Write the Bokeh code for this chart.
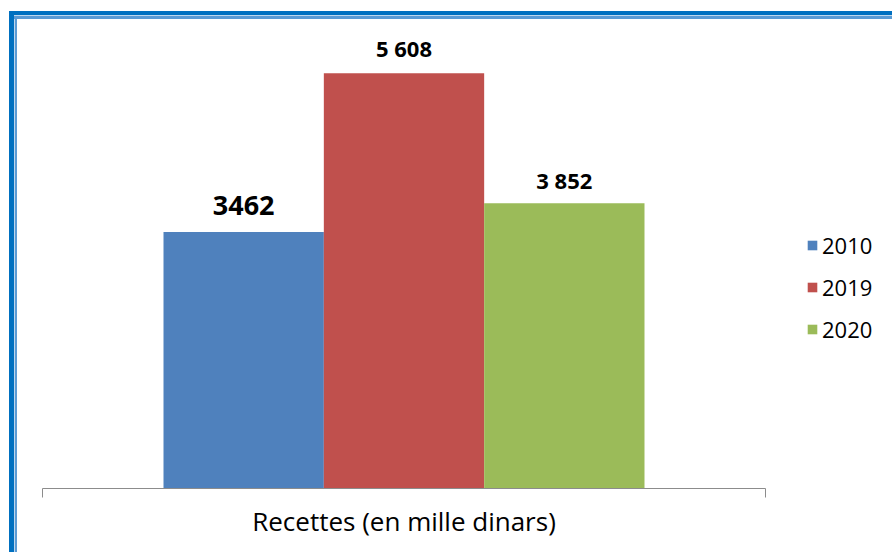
from bokeh.plotting import figure
from bokeh.models import (ColumnDataSource, Range1d, LinearAxis, FixedTicker,
                          Legend, LegendItem)
from bokeh.embed import file_html
from bokeh.resources import INLINE
from bokeh.core.properties import value

# ---- data ----
category = "Recettes (en mille dinars)"
years = ["2010", "2019", "2020"]
recettes = [3462, 5608, 3852]
value_labels = ["3462", "5 608", "3 852"]

# ---- styles ----
colors = ["#4F81BD", "#C0504D", "#9BBB59"]
label_sizes = ["27px", "22px", "22px"]
label_offsets = [-27, -25, -23]
FONT = "Open Sans"
PAD = 0.7547          # gap between the bar group and each end of the category axis (bar widths)
AXIS_PX = 723         # length of the category axis in pixels
LEFT = 42             # left border in pixels
W, H = 892, 552

xpos = [i + 0.5 for i in range(len(years))]
src = ColumnDataSource(dict(x=xpos, year=years, val=recettes, lab=value_labels, color=colors,
                            size=label_sizes, off=label_offsets))

x0, x1 = -PAD, len(years) + PAD
xmid = (x0 + x1) / 2
frame_w = W - LEFT
x_end = x0 + (x1 - x0) * frame_w / AXIS_PX   # plot area extends right to hold the legend

p = figure(width=W, height=H, output_backend="svg", toolbar_location=None,
           x_range=Range1d(x0, x_end), y_range=Range1d(0, 6589),
           x_axis_location=None, y_axis_location=None,
           min_border_left=LEFT, min_border_right=0, min_border_top=0, min_border_bottom=64)
p.outline_line_color = None
p.xgrid.visible = False
p.ygrid.visible = False
p.background_fill_alpha = 0
p.border_fill_alpha = 0

# decorative window-like frame (left and top edges), drawn as page background
dark, light, mid = "#0070C0", "#BDD7EE", "#5B9BD5"
p.styles = {
    "background-color": "white",
    "background-image": ", ".join([
        f"linear-gradient(to bottom, transparent 11px, {dark} 11px, {dark} 15px, transparent 15px)",
        f"linear-gradient(to right, transparent 9px, {dark} 9px, {dark} 14px, transparent 14px)",
        f"linear-gradient(to bottom, transparent 15px, {light} 15px, {light} 16px, {mid} 16px, {mid} 19px, transparent 19px)",
        f"linear-gradient(to right, transparent 14px, {light} 14px, {light} 15px, {mid} 15px, {mid} 17px, transparent 17px)",
    ]),
    "background-position": "9px 0px, 0px 11px, 14px 0px, 0px 15px",
    "background-repeat": "no-repeat",
    "background-size": "100% 100%",
}

bars = p.vbar(x="x", top="val", width=1.0, source=src, fill_color="color", line_color=None)

p.text(x="x", y="val", text="lab", source=src, y_offset="off",
       text_font=value(FONT), text_font_style="bold", text_font_size="size",
       text_align="center", text_baseline="middle", text_color="#000000")

# category axis: line limited to the category span, tick marks at its two ends
ax = LinearAxis(ticker=FixedTicker(ticks=[xmid], minor_ticks=[x0, x1]),
                bounds=(x0, x1),
                major_label_overrides={xmid: category},
                major_label_text_font=FONT, major_label_text_font_size="26px",
                major_label_text_color="#000000", major_label_standoff=5,
                major_tick_in=0, major_tick_out=0, minor_tick_in=0, minor_tick_out=9,
                axis_line_color="#8C8C8C", minor_tick_line_color="#8C8C8C",
                major_tick_line_color=None)
p.add_layout(ax, "below")

# legend
items = [LegendItem(label=y, renderers=[bars], index=i) for i, y in enumerate(years)]
leg = Legend(items=items, location=(806 - LEFT, 144), orientation="vertical",
             glyph_width=12, glyph_height=12, label_standoff=4,
             label_text_font=FONT, label_text_font_size="22px", label_text_color="#000000",
             label_height=20, spacing=12, padding=0, margin=0,
             border_line_color=None, background_fill_alpha=0)
p.add_layout(leg)

open("out.html", "w").write(file_html(p, INLINE))
